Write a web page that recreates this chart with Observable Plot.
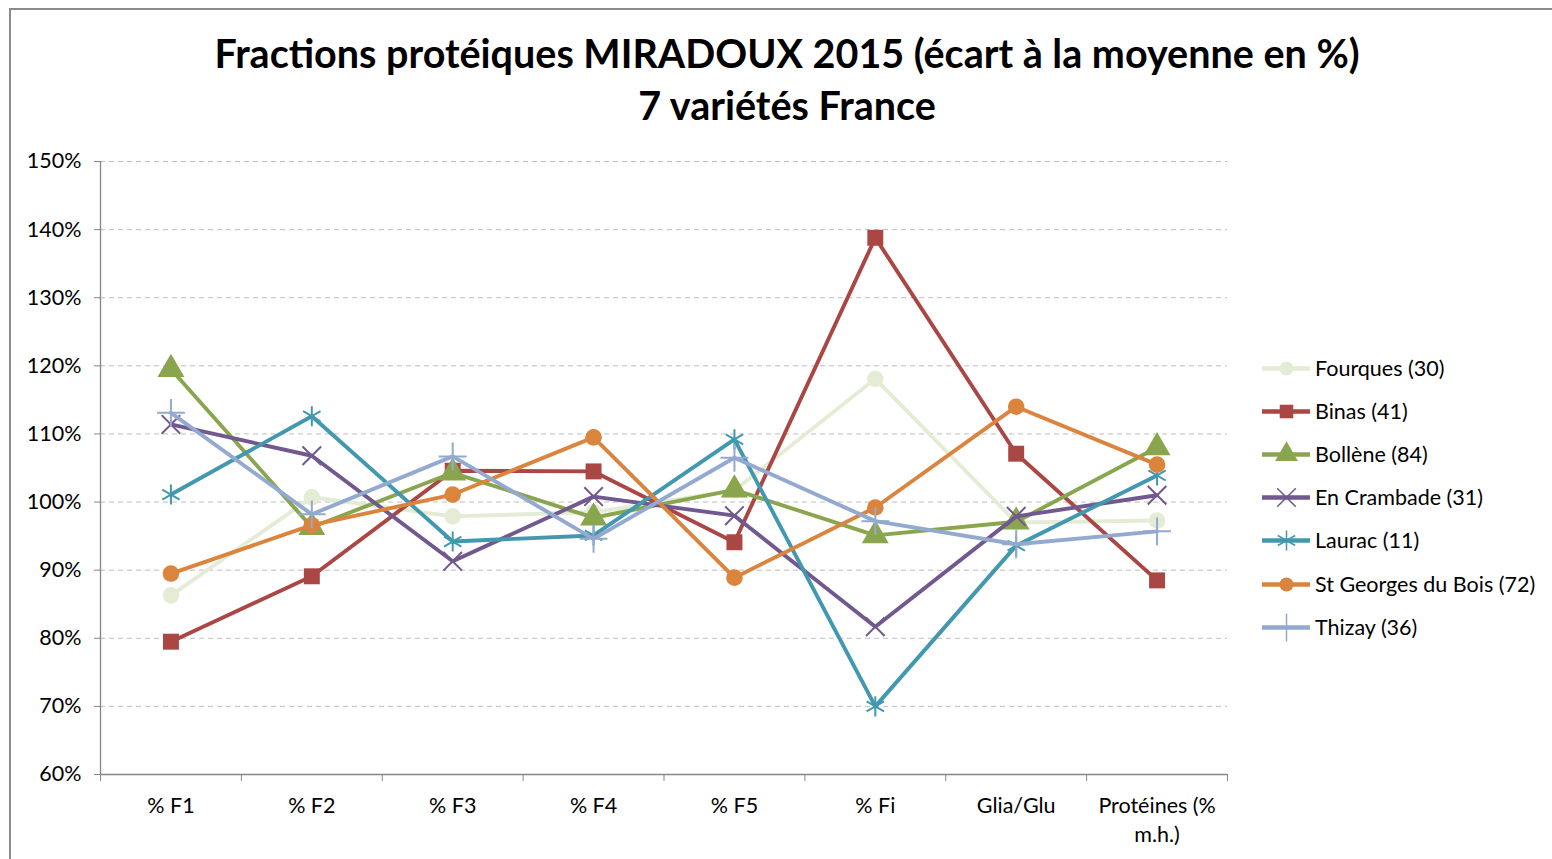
<!DOCTYPE html>
<html>
<head>
<meta charset="utf-8">
<script src="https://cdn.jsdelivr.net/npm/d3@7"></script>
<script src="https://cdn.jsdelivr.net/npm/@observablehq/plot@0.6"></script>
<style>
  html, body { margin: 0; padding: 0; background: #fff; }
  #wrap { position: relative; width: 1552px; height: 859px; overflow: hidden; font-family: Lato, "Liberation Sans", sans-serif; }
  #frame { position: absolute; left: 9px; top: 8px; width: 1600px; height: 900px; border: 2px solid #8c8c8c; box-sizing: border-box; }
  #title { position: absolute; left: 0; top: 0; width: 1552px; height: 140px; text-align: center; font-weight: bold; font-size: 39.5px; line-height: 52px; padding-top: 27px; box-sizing: border-box; color: #000; padding-left: 22px; }
  #chart { position: absolute; left: 0; top: 140px; }
  #legend { position: absolute; left: 1262px; top: 346px; font-size: 21.5px; color: #000; }
  .item { display: flex; align-items: center; height: 43.2px; }
  .item svg { margin-right: 5px; }
</style>
</head>
<body>
<div id="wrap">
  <div id="frame"></div>
  <div id="title">Fractions protéiques MIRADOUX 2015 (écart à la moyenne en %)<br>7 variétés France</div>
  <div id="chart"></div>
  <div id="legend"></div>
</div>
<script>
const categories = ["% F1", "% F2", "% F3", "% F4", "% F5", "% Fi", "Glia/Glu", "Protéines (%\nm.h.)"];
const seriesNames = ["Fourques (30)", "Binas (41)", "Bollène (84)", "En Crambade (31)", "Laurac (11)", "St Georges du Bois (72)", "Thizay (36)"];
const seriesColors = ["#E4ECD6", "#AA4643", "#89A54E", "#71588F", "#4198AF", "#DB843D", "#93A9CF"];
const seriesSymbols = ["circle", "square", "triangle", "times", "asterisk", "circle", "plus"];

const fourques  = [86.3, 100.7, 97.9, 98.5, 101.7, 118.1, 97.0, 97.3];
const binas     = [79.5, 89.1, 104.6, 104.5, 94.1, 138.8, 107.1, 88.5];
const bollene   = [119.5, 96.3, 104.3, 97.7, 101.8, 95.1, 97.1, 108.0];
const crambade  = [111.4, 106.8, 91.3, 100.8, 98.0, 81.7, 97.9, 101.0];
const laurac    = [101.1, 112.6, 94.2, 95.1, 109.2, 70.0, 93.6, 103.9];
const stgeorges = [89.5, 96.6, 101.1, 109.5, 88.9, 99.2, 114.0, 105.5];
const thizay    = [113.1, 98.2, 106.7, 94.6, 106.5, 97.2, 93.8, 95.7];

const yTicks = [60, 70, 80, 90, 100, 110, 120, 130, 140, 150];

const allValues = [fourques, binas, bollene, crambade, laurac, stgeorges, thizay];
const series = seriesNames.map((name, s) => ({
  name, color: seriesColors[s], symbol: seriesSymbols[s],
  data: allValues[s].map((v, i) => ({ i: i + 0.5, cat: categories[i], v, name }))
}));

const strokeSymbols = new Set(["times", "asterisk", "plus"]);
const symbolR = { circle: 8.3, square: 9, triangle: 10, times: 8.5, asterisk: 9.5, plus: 9 };

const marks = [
  Plot.ruleY(yTicks.filter(d => d > 60), { stroke: "#bdbdbd", strokeDasharray: "5,4", strokeWidth: 1 }),
  Plot.ruleX([0], { stroke: "#868686", strokeWidth: 1.3 }),
  Plot.ruleY([60], { stroke: "#868686", strokeWidth: 1.3 }),
  Plot.axisY({ ticks: yTicks, tickFormat: d => d + "%", tickSize: 6, tickPadding: 13, fontSize: 21.5, stroke: "#868686", color: "#000", label: null }),
  Plot.axisX({ ticks: d3.range(0, categories.length + 1), tickFormat: () => "", tickSize: 7, stroke: "#868686", label: null }),
  Plot.axisX({ ticks: categories.map((c, i) => i + 0.5), tickFormat: (d) => categories[Math.floor(d)], tickSize: 0, tickPadding: 18, fontSize: 21.5, lineHeight: 1.35, label: null })
];

for (const s of series) {
  marks.push(Plot.line(s.data, { x: "i", y: "v", stroke: s.color, strokeWidth: 3.9 }));
  if (strokeSymbols.has(s.symbol)) {
    marks.push(Plot.dot(s.data, { x: "i", y: "v", symbol: () => s.symbol, r: symbolR[s.symbol], stroke: s.color, strokeWidth: 2, fill: "none" }));
  } else {
    marks.push(Plot.dot(s.data, { x: "i", y: "v", symbol: () => s.symbol, r: symbolR[s.symbol], fill: s.color, stroke: "none" }));
  }
}

const chart = Plot.plot({
  width: 1552,
  height: 719,
  marginTop: 21,
  marginBottom: 85,
  marginLeft: 100,
  marginRight: 325,
  style: { fontFamily: "Lato, 'Liberation Sans', sans-serif", color: "#000", background: "transparent", overflow: "visible" },
  x: { type: "linear", domain: [0, categories.length] },
  y: { domain: [60, 150] },
  symbol: { type: "identity" },
  marks
});
document.getElementById("chart").appendChild(chart);

// legend
const legend = document.getElementById("legend");
for (const s of series) {
  const item = document.createElement("div");
  item.className = "item";
  const sw = Plot.plot({
    width: 48, height: 24, margin: 0,
    x: { domain: [0, 1], axis: null },
    y: { domain: [0, 1], axis: null },
    symbol: { type: "identity" },
    style: { overflow: "visible", background: "transparent" },
    marks: [
      Plot.ruleY([0.5], { x1: 0, x2: 1, stroke: s.color, strokeWidth: 4.5 }),
      strokeSymbols.has(s.symbol)
        ? Plot.dot([0.5], { x: 0.5, y: 0.5, symbol: () => s.symbol, r: symbolR[s.symbol], stroke: s.color, strokeWidth: 1.5, fill: "none" })
        : Plot.dot([0.5], { x: 0.5, y: 0.5, symbol: () => s.symbol, r: symbolR[s.symbol] * 0.85, fill: s.color, stroke: "none" })
    ]
  });
  item.appendChild(sw);
  const t = document.createElement("span");
  t.textContent = s.name;
  item.appendChild(t);
  legend.appendChild(item);
}
</script>
</body>
</html>
